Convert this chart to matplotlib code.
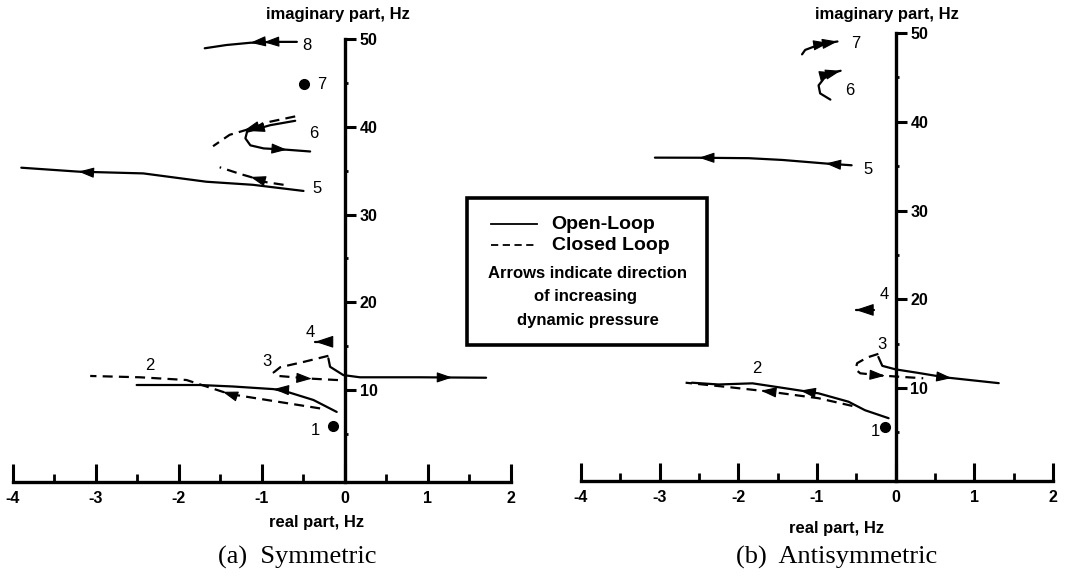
import numpy as np
import matplotlib
matplotlib.use("Agg")
import matplotlib.pyplot as plt
from matplotlib.patches import Rectangle
from matplotlib.lines import Line2D

# ---------------- data: (a) Symmetric ----------------
a_m8_open_x = [-0.58, -0.87, -1.14, -1.43, -1.69]
a_m8_open_y = [49.7, 49.7, 49.6, 49.34, 48.97]
a_m6_open_x = [-0.60, -0.90, -1.18, -1.20, -1.14, -0.98, -0.70, -0.42]
a_m6_open_y = [40.7, 40.2, 39.45, 38.7, 37.9, 37.55, 37.4, 37.2]
a_m6_closed_x = [-0.60, -0.90, -1.14, -1.39, -1.59]
a_m6_closed_y = [41.2, 40.6, 39.8, 39.1, 37.8]
a_m5_open_x = [-0.50, -1.11, -1.67, -2.43, -3.21, -3.90]
a_m5_open_y = [32.7, 33.4, 33.75, 34.7, 34.9, 35.35]
a_m5_closed_x = [-0.74, -0.95, -1.14, -1.25, -1.51]
a_m5_closed_y = [33.4, 33.7, 34.3, 34.6, 35.4]
a_m4_open_x = [-0.18, -0.36]
a_m4_open_y = [15.5, 15.5]
a_m3_closed_x = [-0.20, -0.50, -0.78, -0.86, -0.80, -0.42, -0.02]
a_m3_closed_y = [13.9, 13.2, 12.6, 12.0, 11.6, 11.3, 11.1]
a_m3_open_x = [-0.20, -0.18, -0.02, 0.18, 0.90, 1.70]
a_m3_open_y = [13.6, 12.65, 11.7, 11.45, 11.45, 11.4]
a_m2_closed_x = [-0.30, -0.94, -1.39, -1.67, -1.91, -2.47, -3.07]
a_m2_closed_y = [7.9, 8.86, 9.54, 10.4, 11.14, 11.45, 11.6]
a_m2_open_x = [-0.10, -0.38, -0.70, -0.86, -1.35, -1.75, -2.51]
a_m2_open_y = [7.5, 8.86, 9.8, 10.1, 10.4, 10.57, 10.57]
a_points_x = [-0.14, -0.49]          # modes 1 and 7
a_points_y = [5.9, 44.86]
a_labels = ["8", "7", "6", "5", "4", "3", "2", "1"]
a_labels_x = [-0.46, -0.28, -0.38, -0.34, -0.42, -0.94, -2.35, -0.36]
a_labels_y = [49.3, 44.8, 39.3, 33.0, 16.6, 13.3, 12.85, 5.4]

# ---------------- data: (b) Antisymmetric ----------------
b_m7_open_x = [-1.19, -1.15, -1.03, -0.88, -0.74]
b_m7_open_y = [47.6, 48.1, 48.5, 48.85, 49.05]
b_m6_open_x = [-0.83, -0.96, -0.98, -0.91, -0.81, -0.70]
b_m6_open_y = [42.5, 43.2, 44.1, 44.9, 45.5, 45.75]
b_m5_open_x = [-0.56, -0.89, -1.44, -1.87, -2.50, -3.06]
b_m5_open_y = [35.1, 35.3, 35.7, 35.9, 35.95, 35.96]
b_m4_open_x = [-0.28, -0.51]
b_m4_open_y = [18.8, 18.8]
b_m3_closed_x = [-0.22, -0.36, -0.49, -0.51, -0.45, -0.17, 0.0, 0.35]
b_m3_closed_y = [13.85, 13.45, 12.8, 12.1, 11.66, 11.4, 11.3, 11.1]
b_m3_open_x = [-0.22, -0.17, 0.0, 0.29, 0.63, 1.31]
b_m3_open_y = [13.5, 12.5, 12.1, 11.7, 11.2, 10.55]
b_m2_open_x = [-0.09, -0.39, -0.60, -0.98, -1.40, -1.82, -2.25, -2.59]
b_m2_open_y = [6.6, 7.5, 8.46, 9.4, 9.97, 10.53, 10.4, 10.6]
b_m2_closed_x = [-0.55, -0.98, -1.61, -2.12, -2.67]
b_m2_closed_y = [7.98, 8.85, 9.6, 10.1, 10.6]
b_points_x = [-0.13]                 # mode 1
b_points_y = [5.65]
b_labels = ["7", "6", "5", "4", "3", "2", "1"]
b_labels_x = [-0.51, -0.58, -0.35, -0.15, -0.17, -1.76, -0.26]
b_labels_y = [48.85, 43.5, 34.6, 20.5, 14.95, 12.2, 5.1]

# arrow positions along each curve (fractional point index)
a_curves = [
    (a_m8_open_x, a_m8_open_y, "open", [1.4, 2.0]),
    (a_m6_open_x, a_m6_open_y, "open", [1.9, 6.0]),
    (a_m6_closed_x, a_m6_closed_y, "closed", [2.3]),
    (a_m5_open_x, a_m5_open_y, "open", [4.0]),
    (a_m5_closed_x, a_m5_closed_y, "closed", [2.0]),
    (a_m4_open_x, a_m4_open_y, "open", [1.0]),
    (a_m3_closed_x, a_m3_closed_y, "closed", [5.05]),
    (a_m3_open_x, a_m3_open_y, "open", [4.49]),
    (a_m2_closed_x, a_m2_closed_y, "closed", [2.3]),
    (a_m2_open_x, a_m2_open_y, "open", [3.0]),
]
b_curves = [
    (b_m7_open_x, b_m7_open_y, "open", [3.2, 4.0]),
    (b_m6_open_x, b_m6_open_y, "open", [4.3, 5.0]),
    (b_m5_open_x, b_m5_open_y, "open", [1.0, 4.0]),
    (b_m4_open_x, b_m4_open_y, "open", [1.0]),
    (b_m3_closed_x, b_m3_closed_y, "closed", [5.2]),
    (b_m3_open_x, b_m3_open_y, "open", [4.12]),
    (b_m2_open_x, b_m2_open_y, "open", [3.55]),
    (b_m2_closed_x, b_m2_closed_y, "closed", [2.2]),
]

W, H = 1066, 577
SANS = ["Liberation Sans", "DejaVu Sans"]
SERIF = ["Liberation Serif", "DejaVu Serif"]
plt.rcParams["font.family"] = SANS

fig = plt.figure(figsize=(W / 100, H / 100), dpi=100)


def axes_px(x0, x1, ytop, ybot):
    return fig.add_axes([x0 / W, 1 - ybot / H, (x1 - x0) / W, (ybot - ytop) / H])


def setup(ax):
    ax.set_xlim(-4.1, 2.1)
    ax.set_ylim(-3, 52)
    ax.patch.set_alpha(0)
    ax.spines["top"].set_visible(False)
    ax.spines["left"].set_visible(False)
    ax.spines["right"].set_position(("data", 0))
    ax.spines["bottom"].set_position(("data", -0.5))
    ax.spines["right"].set_bounds(-0.5, 50)
    ax.spines["bottom"].set_bounds(-4, 2)
    ax.spines["right"].set_linewidth(2.4)
    ax.spines["bottom"].set_linewidth(2.4)
    ax.yaxis.tick_right()
    ax.set_xticks(np.arange(-4, 3, 1))
    ax.set_xticks(np.arange(-3.5, 2, 1.0), minor=True)
    ax.set_xticklabels([str(v) for v in range(-4, 3)])
    ax.set_yticks([10, 20, 30, 40, 50])
    ax.set_yticks([5, 15, 25, 35, 45], minor=True)
    ax.tick_params(axis="x", which="major", direction="in", length=13, width=2.2,
                   pad=6.5, labelsize=11.5)
    ax.tick_params(axis="x", which="minor", direction="in", length=6, width=2.0)
    ax.tick_params(axis="y", which="major", direction="out", length=8, width=2.2,
                   pad=2.5, labelsize=11.5)
    ax.tick_params(axis="y", which="minor", direction="out", length=2.5, width=2.0)
    for lab in ax.get_xticklabels() + ax.get_yticklabels():
        lab.set_fontweight("bold")


def draw_arrow(ax, xs, ys, t, size=1.0):
    n = len(xs)
    i = min(int(np.floor(t)), n - 2)
    f = t - i
    tip = np.array([xs[i] + f * (xs[i + 1] - xs[i]), ys[i] + f * (ys[i + 1] - ys[i])])
    p0 = ax.transData.transform((xs[i], ys[i]))
    p1 = ax.transData.transform((xs[i + 1], ys[i + 1]))
    d = (p1 - p0) / np.hypot(*(p1 - p0))
    tip_px = ax.transData.transform(tip)
    tail = ax.transData.inverted().transform(tip_px - d * 13 * size)
    ax.annotate("", xy=tip, xytext=tail,
                arrowprops=dict(arrowstyle="-|>,head_length=%.2f,head_width=%.2f" % (0.95 * size, 0.32 * size),
                                color="black", lw=0.8, shrinkA=0, shrinkB=0))


def draw_panel(ax, curves, px, py, labels, lx, ly):
    fig.canvas.draw()
    for xs, ys, kind, arrows in curves:
        if kind == "open":
            ax.plot(xs, ys, color="black", lw=1.6, solid_capstyle="round")
        else:
            ax.plot(xs, ys, color="black", lw=1.6, linestyle=(0, (4.5, 2.8)))
        for t in arrows:
            draw_arrow(ax, xs, ys, t, size=1.2 if len(xs) == 2 else 1.0)
    ax.plot(px, py, "o", color="black", ms=7)
    for s, x, y in zip(labels, lx, ly):
        ax.text(x, y, s, fontsize=12, ha="center", va="center")


ax1 = axes_px(4.7, 519.3, 21.7, 504)
ax2 = axes_px(573.1, 1060.9, 15.3, 503.4)
setup(ax1)
setup(ax2)
draw_panel(ax1, a_curves, a_points_x, a_points_y, a_labels, a_labels_x, a_labels_y)
draw_panel(ax2, b_curves, b_points_x, b_points_y, b_labels, b_labels_x, b_labels_y)


def ftext(x, y, s, **kw):
    fig.text(x / W, 1 - y / H, s, ha=kw.pop("ha", "center"), va="center", **kw)


ftext(338, 15, "imaginary part, Hz", fontsize=12, fontweight="bold")
ftext(887, 15, "imaginary part, Hz", fontsize=12, fontweight="bold")
ftext(317, 523, "real part, Hz", fontsize=12, fontweight="bold")
ftext(837, 528, "real part, Hz", fontsize=12, fontweight="bold")
ftext(297, 557, "(a)  Symmetric", fontsize=19, family=SERIF)
ftext(837, 557, "(b)  Antisymmetric", fontsize=19, family=SERIF)

# legend box
fig.add_artist(Rectangle((466.7 / W, 1 - 345 / H), 240 / W, 146.7 / H,
                         transform=fig.transFigure, fill=False, lw=2.6, color="black"))
fig.add_artist(Line2D([491 / W, 537 / W], [1 - 224 / H, 1 - 224 / H],
                      transform=fig.transFigure, color="black", lw=1.3))
fig.add_artist(Line2D([491 / W, 537 / W], [1 - 245 / H, 1 - 245 / H],
                      transform=fig.transFigure, color="black", lw=1.3,
                      linestyle=(0, (4, 2.5))))
ftext(551.7, 224, "Open-Loop", fontsize=14, fontweight="bold", ha="left")
ftext(551.7, 245, "Closed Loop", fontsize=14, fontweight="bold", ha="left")
ftext(587.5, 274, "Arrows indicate direction", fontsize=12, fontweight="bold")
ftext(586, 297, "of increasing", fontsize=12, fontweight="bold")
ftext(587.5, 320, "dynamic pressure", fontsize=12, fontweight="bold")

fig.savefig("out.png", dpi=100)
